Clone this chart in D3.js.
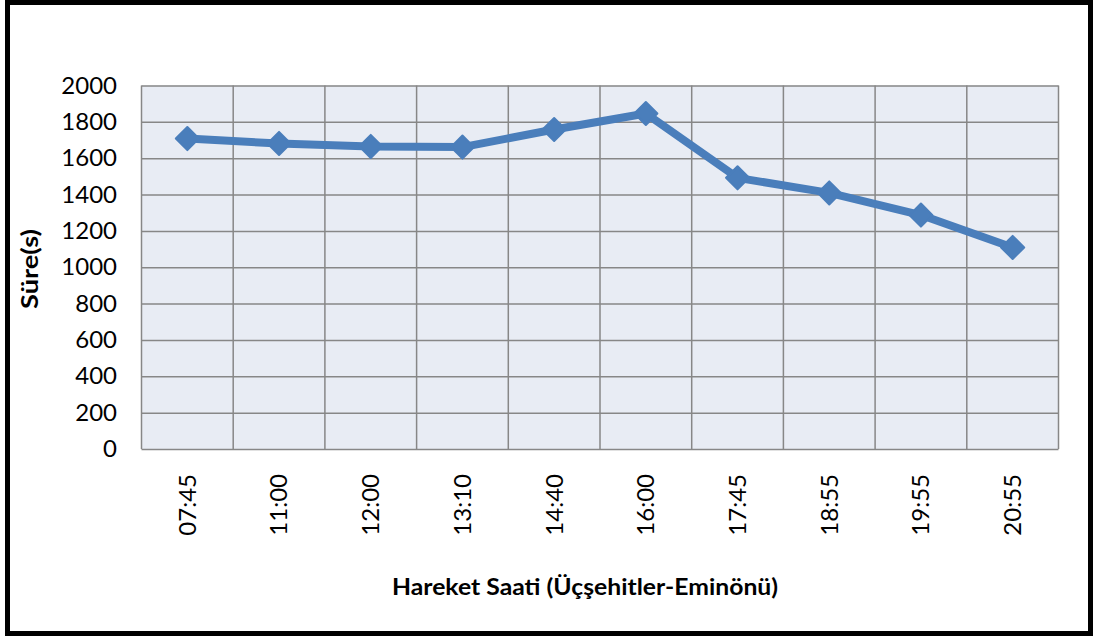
<!DOCTYPE html>
<html>
<head>
<meta charset="utf-8">
<script src="https://cdn.jsdelivr.net/npm/d3@7"></script>
<style>
    body { margin: 0; background: #fff; }
    svg { display: block; font-family: Lato, "Open Sans", sans-serif; }
</style>
</head>
<body>
<script>
var times = ["07:45", "11:00", "12:00", "13:10", "14:40", "16:00", "17:45", "18:55", "19:55", "20:55"];
var durations = [1708, 1681, 1665, 1661, 1758, 1846, 1492, 1409, 1287, 1109];
var yTicks = [0, 200, 400, 600, 800, 1000, 1200, 1400, 1600, 1800, 2000];

var width = 1097, height = 637;
var plot = { left: 141.5, top: 85.5, right: 1058.5, bottom: 449 };

var svg = d3.select("body").append("svg")
    .attr("width", width)
    .attr("height", height)

// outer frame
svg.append("rect")
    .attr("x", 7.5).attr("y", 2.5)
    .attr("width", 1083).attr("height", 631)
    .attr("fill", "#fff")
    .attr("stroke", "#000")
    .attr("stroke-width", 5)

var x = d3.scaleBand().domain(times).range([plot.left, plot.right])
var y = d3.scaleLinear().domain([0, 2000]).range([plot.bottom, plot.top])

svg.append("rect")
    .attr("x", plot.left).attr("y", plot.top)
    .attr("width", plot.right - plot.left)
    .attr("height", plot.bottom - plot.top)
    .attr("fill", "#e8ecf4")

// horizontal grid
svg.append("g")
    .attr("transform", "translate(" + plot.left + ",0)")
    .call(d3.axisLeft(y).tickValues(yTicks).tickSize(-(plot.right - plot.left)).tickFormat(""))
    .call(function(g) { g.select(".domain").remove() })
    .selectAll("line").attr("stroke", "#878787").attr("stroke-width", 1.5)

// vertical grid (band edges)
svg.append("g")
    .selectAll("line")
    .data(times.concat(["end"]))
    .enter()
    .append("line")
    .attr("x1", function(d, i) { return i < times.length ? x(d) : plot.right })
    .attr("x2", function(d, i) { return i < times.length ? x(d) : plot.right })
    .attr("y1", plot.top).attr("y2", plot.bottom)
    .attr("stroke", "#878787")
    .attr("stroke-width", 1.5)

// y tick labels
var yAxis = svg.append("g")
    .attr("transform", "translate(117,0)")
    .call(d3.axisLeft(y).tickValues(yTicks).tickSize(0).tickPadding(0).tickFormat(d3.format("d")))
yAxis.select(".domain").remove()
yAxis.selectAll("text")
    .attr("font-family", "Lato, sans-serif")
    .attr("font-size", 24)
    .attr("fill", "#000")

// x tick labels
var xAxis = svg.append("g")
    .attr("transform", "translate(0," + plot.bottom + ")")
    .call(d3.axisBottom(x).tickSize(0))
xAxis.select(".domain").remove()
xAxis.selectAll("text")
    .attr("font-family", "Lato, sans-serif")
    .attr("font-size", 24)
    .attr("fill", "#000")
    .attr("text-anchor", "end")
    .attr("dy", "0.35em")
    .attr("y", 0)
    .attr("transform", "translate(0,25) rotate(-90)")

var line = d3.line()
    .x(function(d, i) { return x(times[i]) + x.bandwidth() / 2 })
    .y(function(d) { return y(d) })

svg.append("path")
    .datum(durations)
    .attr("d", line)
    .attr("fill", "none")
    .attr("stroke", "#4a7ebb")
    .attr("stroke-width", 8)
    .attr("stroke-linejoin", "round")

svg.selectAll(".marker")
    .data(durations)
    .enter()
    .append("path")
    .attr("class", "marker")
    .attr("d", d3.symbol().type(d3.symbolDiamond2).size(340))
    .attr("transform", function(d, i) {
        return "translate(" + (x(times[i]) + x.bandwidth() / 2) + "," + y(d) + ")"
    })
    .attr("fill", "#4a7ebb")
    .attr("stroke", "#4a7ebb")
    .attr("stroke-width", 2)
    .attr("stroke-linejoin", "round")

svg.append("text")
    .attr("transform", "rotate(-90)")
    .attr("x", -269)
    .attr("y", 38)
    .attr("text-anchor", "middle")
    .attr("font-size", 23)
    .attr("font-weight", "bold")
    .attr("textLength", 80)
    .attr("lengthAdjust", "spacingAndGlyphs")
    .text("Süre(s)")

svg.append("text")
    .attr("x", 585)
    .attr("y", 595)
    .attr("text-anchor", "middle")
    .attr("font-size", 22)
    .attr("font-weight", "bold")
    .attr("textLength", 386)
    .attr("lengthAdjust", "spacingAndGlyphs")
    .text("Hareket Saati (Üçşehitler-Eminönü)")
</script>
</body>
</html>
